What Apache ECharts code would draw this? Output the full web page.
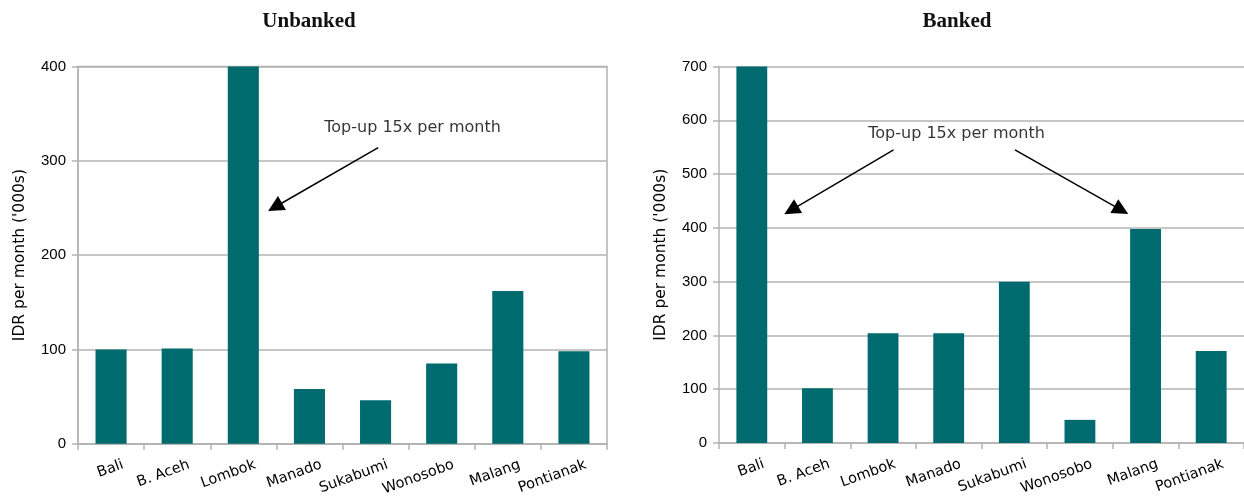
<!DOCTYPE html>
<html>
<head>
<meta charset="utf-8">
<script src="https://cdn.jsdelivr.net/npm/echarts@6/dist/echarts.min.js"></script>
<style>
  html, body { margin: 0; padding: 0; background: #fff; }
  #chart { width: 1244px; height: 498px; }
</style>
</head>
<body>
<div id="chart"></div>
<script>
// Monthly spend per region, IDR thousands
const regions = ['Bali', 'B. Aceh', 'Lombok', 'Manado', 'Sukabumi', 'Wonosobo', 'Malang', 'Pontianak'];
const unbanked = [100, 101, 400, 58, 46, 85, 162, 98];
const banked = [700, 102, 204, 204, 300, 43, 398, 171];

const unbankedTicks = { min: 0, max: 400, interval: 100 };
const bankedTicks = { min: 0, max: 700, interval: 100 };

// Annotation positions on a hidden 0..8 value axis laid over each category axis
const noteText = 'Top-up 15x per month';
const unbankedNote = [5.06, 335];
const unbankedArrows = [[[4.54, 314], [2.98, 251]]];
const bankedNote = [3.62, 574];
const bankedArrows = [[[2.66, 545], [1.10, 433]], [[4.51, 545], [6.13, 433]]];

const TEAL = '#006b6e';
const GRID = '#b3b3b3';
const SANS = '"DejaVu Sans", sans-serif';

function catAxis(gridIndex) {
  return {
    type: 'category', gridIndex, data: regions,
    axisLine: { lineStyle: { color: GRID, width: 1.5 } },
    axisTick: { show: true, length: 6, lineStyle: { color: GRID, width: 1.5 } },
    axisLabel: {
      rotate: 20, align: 'right', verticalAlign: 'top', padding: [0, -10, 0, 0],
      color: '#000', fontFamily: SANS, fontSize: 14.5, margin: 17
    }
  };
}
function hiddenX(gridIndex) {
  return { type: 'value', gridIndex, min: 0, max: 8, show: false };
}
function valAxis(gridIndex, t) {
  return {
    type: 'value', gridIndex, min: t.min, max: t.max, interval: t.interval,
    name: "IDR per month ('000s)", nameLocation: 'middle', nameGap: 50,
    nameTextStyle: { fontFamily: SANS, fontSize: 15.5, color: '#000' },
    axisLine: { show: true, lineStyle: { color: GRID, width: 1.5 } },
    axisTick: { show: true, length: 6, lineStyle: { color: GRID, width: 1.5 } },
    axisLabel: { color: '#000', fontFamily: '"Liberation Sans", Arial, sans-serif', fontSize: 15, margin: 12 },
    splitLine: { show: true, lineStyle: { color: GRID, width: 1.5 } }
  };
}
function arrowSeries(xAxisIndex, yAxisIndex, arrows) {
  return {
    type: 'lines', coordinateSystem: 'cartesian2d', xAxisIndex, yAxisIndex,
    symbol: ['none', 'triangle'], symbolSize: 16, silent: true,
    lineStyle: { color: '#000', width: 1.5, opacity: 1 },
    data: arrows.map(a => ({ coords: a }))
  };
}
function noteSeries(xAxisIndex, yAxisIndex, pos) {
  return {
    type: 'scatter', xAxisIndex, yAxisIndex, symbolSize: 1, silent: true,
    itemStyle: { color: 'transparent' },
    label: { show: true, position: 'inside', formatter: noteText, color: '#000', fontFamily: SANS, fontSize: 16 },
    data: [pos]
  };
}

const titleStyle = { fontFamily: '"Liberation Serif", serif', fontWeight: 'bold', fontSize: 21, color: '#111' };

const chart = echarts.init(document.getElementById('chart'), null, { renderer: 'canvas' });
chart.setOption({
  animation: false,
  title: [
    { text: 'Unbanked', left: 304, top: 6, textAlign: 'center', textStyle: titleStyle },
    { text: 'Banked', left: 952, top: 6, textAlign: 'center', textStyle: titleStyle }
  ],
  grid: [
    { left: 78, right: 637, top: 66.5, bottom: 54, show: true, borderColor: GRID, borderWidth: 1.5, backgroundColor: 'transparent' },
    { left: 719, right: -5, top: 66.5, bottom: 55 }
  ],
  xAxis: [catAxis(0), catAxis(1), hiddenX(0), hiddenX(1)],
  yAxis: [valAxis(0, unbankedTicks), valAxis(1, bankedTicks)],
  series: [
    { type: 'bar', name: 'Unbanked', xAxisIndex: 0, yAxisIndex: 0, data: unbanked, barWidth: '47%', itemStyle: { color: TEAL } },
    { type: 'bar', name: 'Banked', xAxisIndex: 1, yAxisIndex: 1, data: banked, barWidth: '47%', itemStyle: { color: TEAL } },
    arrowSeries(2, 0, unbankedArrows),
    arrowSeries(3, 1, bankedArrows),
    noteSeries(2, 0, unbankedNote),
    noteSeries(3, 1, bankedNote)
  ]
});
</script>
</body>
</html>
